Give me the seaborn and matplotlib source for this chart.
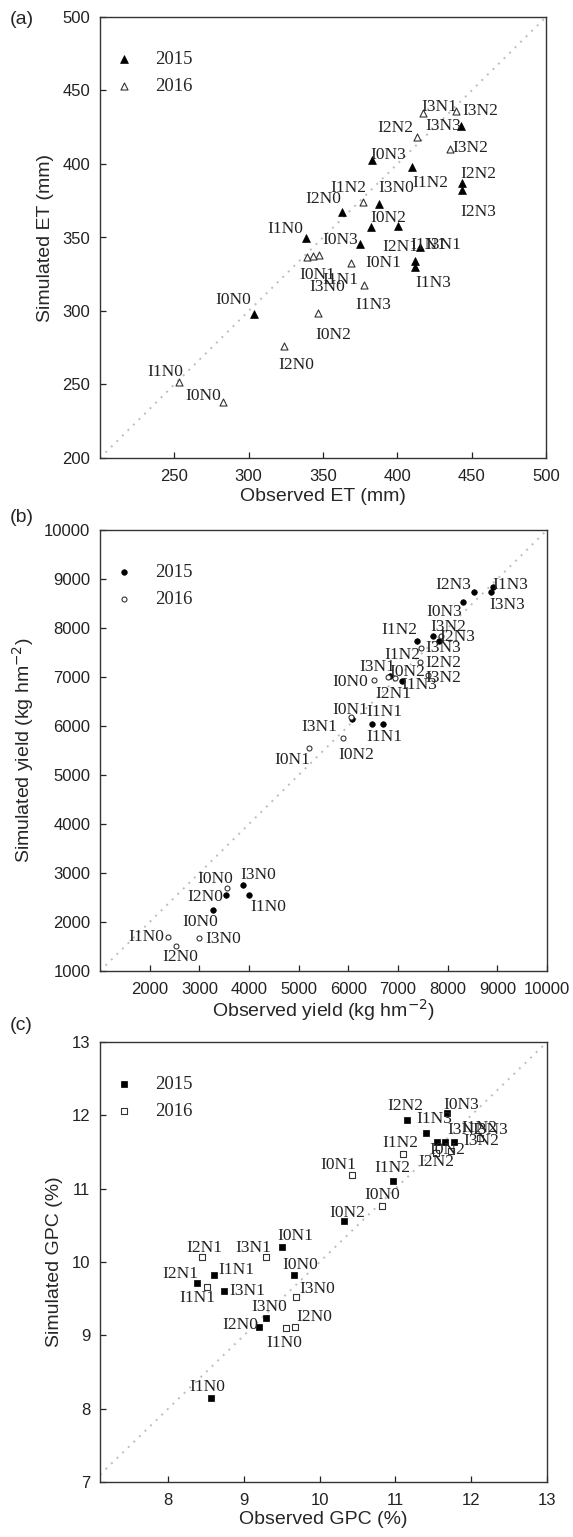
import matplotlib
matplotlib.use("Agg")
import matplotlib.pyplot as plt
import seaborn as sns
import pandas as pd

sns.set_style("ticks")
plt.rcParams["font.family"] = ["Liberation Sans", "DejaVu Sans"]

# ---------------- (a) ET (mm) ----------------
et15_obs = [338.6, 374.9, 382.3, 400.4, 362.8, 387.7, 383.0, 409.9, 442.8, 443.5, 443.5, 411.9, 411.9, 303.6, 415.2]
et15_sim = [349.7, 345.6, 357.1, 357.8, 367.3, 372.8, 402.7, 398.0, 425.9, 387.1, 382.3, 334.0, 329.9, 298.0, 343.5]
et15_lab = ["I1N0", "I0N3", "I0N2", "I2N1", "I2N0", "I3N0", "I0N3", "I1N2", "I3N3", "I2N2", "I2N3", "I3N1",
            "I1N3", "I0N0", "I1N1"]
et16_obs = [417.3, 439.5, 413.2, 435.4, 376.9, 339.2, 347.3, 368.8, 377.6, 346.6, 323.8, 253.1, 282.7, 343.3]
et16_sim = [434.7, 436.1, 418.4, 410.2, 374.1, 336.7, 338.1, 332.7, 317.7, 298.6, 276.2, 251.7, 238.1, 337.4]
et16_lab = ["I3N1", "I3N2", "I2N2", "I3N2", "I1N2", "I0N1", "I1N1", "I0N1", "I1N3", "I0N2", "I2N0", "I1N0",
            "I0N0", "I3N0"]

# ---------------- (b) yield (kg hm-2) ----------------
y15_obs = [8530, 8864, 8917, 8315, 7376, 7697, 7830, 6839, 7074, 6066, 6468, 6690, 3885, 4004, 3531, 3281]
y15_sim = [8729, 8729, 8831, 8525, 7735, 7837, 7735, 7027, 6919, 6143, 6041, 6041, 2755, 2551, 2551, 2245]
y15_lab = ["I2N3", "I3N3", "I1N3", "I0N3", "I1N2", "I3N2", "I3N3", "I3N1", "I1N3", "I3N1", "I1N1", "I1N1",
           "I3N0", "I1N0", "I2N0", "I0N0"]
y16_obs = [7858, 7463, 7443, 6940, 6517, 6054, 5885, 5215, 3561, 2361, 2530, 2993, 7600, 6800]
y16_sim = [7844, 7586, 7301, 6974, 6939, 6190, 5762, 5545, 2688, 1700, 1516, 1667, 7050, 7000]
y16_lab = ["I2N3", "I1N2", "I2N2", "I0N2", "I0N0", "I0N1", "I0N2", "I0N1", "I0N0", "I1N0", "I2N0", "I3N0",
           "I3N2", "I2N1"]

# ---------------- (c) GPC (%) ----------------
g15_obs = [10.97, 10.32, 9.50, 9.66, 8.60, 8.38, 8.74, 9.29, 9.20, 8.56, 11.15, 11.40, 11.55, 11.66, 11.77, 11.68]
g15_sim = [11.11, 10.56, 10.21, 9.82, 9.82, 9.72, 9.61, 9.23, 9.12, 8.14, 11.93, 11.76, 11.64, 11.63, 11.63, 12.03]
g15_lab = ["I1N2", "I0N2", "I0N1", "I0N0", "I1N1", "I2N1", "I3N1", "I3N0", "I2N0", "I1N0", "I2N2", "I1N3",
           "I0N2", "I3N2", "I1N2", "I0N3"]
g16_obs = [10.43, 10.82, 8.44, 9.29, 8.51, 9.69, 9.67, 9.56, 11.10, 11.53, 11.73, 12.12]
g16_sim = [11.19, 10.77, 10.07, 10.07, 9.66, 9.52, 9.12, 9.10, 11.47, 11.48, 11.52, 11.69]
g16_lab = ["I0N1", "I0N0", "I2N1", "I3N1", "I1N1", "I3N0", "I2N0", "I1N0", "I1N2", "I2N2", "I3N2", "I3N3"]

# label offsets (pixels, x right / y up)
et15_off = [(-21, 9), (-20, 4), (17, 9), (2, -21), (-19, 13), (17, 16), (16, 5), (18, -16), (-18, 0),
            (16, 9), (16, -22), (28, 16), (18, -16), (-21, 14), (8, 2)]
et16_off = [(16, 6), (24, 0), (-22, 9), (20, 1), (-15, 14), (10, -18), (21, -25), (32, 0), (9, -20),
            (15, -22), (12, -19), (-14, 10), (-20, 6), (14, -31)]
y15_off = [(-21, 7), (17, -13), (17, 2), (-19, -10), (-17, 11), (16, 9), (4, -7), (-13, 9), (18, -4),
           (-32, -8), (13, 12), (2, -13), (15, 10), (19, -12), (-20, -2), (-13, -12)]
y16_off = [(17, -1), (-19, -7), (23, -1), (12, 6), (-24, -2), (-1, 7), (14, -17), (-17, -12),
           (-12, 9), (-21, 0), (4, -11), (24, -1), (15, -3), (5, -17)]
g15_off = [(-1, 13), (3, 8), (13, 11), (6, 10), (23, 5), (-17, 9), (23, 0), (3, 11), (-19, 2), (-3, 11),
           (-2, 14), (8, 14), (10, -8), (20, 12), (26, 14), (14, 8)]
g16_off = [(-14, 10), (0, 11), (3, 9), (-13, 9), (-9, -11), (21, 8), (20, 10), (-2, -15), (-3, 11),
           (1, -9), (30, 10), (10, 8)]

W, H = 573, 1537
fig = plt.figure(figsize=(W / 100, H / 100), dpi=100)

serif = ["Liberation Serif", "DejaVu Serif"]


def panel(rect, obs15, sim15, lab15, off15, obs16, sim16, lab16, off16,
          marker, s, lims, xticks, yticks, xlabel, ylabel, tag, tag_y, xlab_pad):
    ax = fig.add_axes(rect)
    df15 = pd.DataFrame({"obs": obs15, "sim": sim15})
    df16 = pd.DataFrame({"obs": obs16, "sim": sim16})
    ax.plot([lims[0][0], lims[0][1]], [lims[0][0], lims[0][1]], ls=(0, (1, 3)),
            color="#bdbdbd", lw=1.4, zorder=1)
    sns.scatterplot(data=df15, x="obs", y="sim", marker=marker, s=s, color="black",
                    edgecolor="black", linewidth=0.5, ax=ax, label="2015", zorder=3)
    sns.scatterplot(data=df16, x="obs", y="sim", marker=marker, s=s * 0.8, color="white",
                    edgecolor="#333333", linewidth=0.8, ax=ax, label="2016", zorder=3)
    for xs, ys, labs, offs in [(obs15, sim15, lab15, off15), (obs16, sim16, lab16, off16)]:
        for x, y, lb, (dx, dy) in zip(xs, ys, labs, offs):
            if lb:
                ax.annotate(lb, (x, y), xytext=(dx, dy), textcoords="offset pixels",
                            ha="center", va="center", fontsize=12.5, family=serif,
                            color="#222222", zorder=4)
    ax.set_xlim(lims[0])
    ax.set_ylim(lims[1])
    ax.set_xticks(xticks)
    ax.set_yticks(yticks)
    ax.tick_params(direction="in", length=4, width=0.9, labelsize=12, colors="#222222")
    ax.tick_params(axis="x", pad=8)
    ax.tick_params(axis="y", pad=7)
    for sp in ax.spines.values():
        sp.set_linewidth(1.0)
        sp.set_color("#333333")
    ax.set_xlabel(xlabel, fontsize=14, labelpad=xlab_pad)
    ax.set_ylabel(ylabel, fontsize=14, labelpad=6)
    ax.legend(loc="upper left", bbox_to_anchor=(-0.005, 0.94), frameon=False,
              prop={"family": serif, "size": 13.5}, handletextpad=0.65,
              labelspacing=0.5, borderaxespad=0)
    fig.text(10 / W, 1 - tag_y / H, tag, fontsize=14, va="center", ha="left")
    return ax


panel([100 / W, 1 - 458 / H, 446 / W, 441 / H],
      et15_obs, et15_sim, et15_lab, et15_off, et16_obs, et16_sim, et16_lab, et16_off,
      "^", 32, ((200, 500), (200, 500)), [250, 300, 350, 400, 450, 500],
      [200, 250, 300, 350, 400, 450, 500], "Observed ET (mm)", "Simulated ET (mm)", "(a)",
      20, 3)

panel([100 / W, 1 - 971 / H, 447 / W, 441 / H],
      y15_obs, y15_sim, y15_lab, y15_off, y16_obs, y16_sim, y16_lab, y16_off,
      "o", 16, ((1000, 10000), (1000, 10000)), list(range(2000, 10001, 1000)),
      list(range(1000, 10001, 1000)), "Observed yield (kg hm$^{-2}$)",
      "Simulated yield (kg hm$^{-2}$)", "(b)", 518, 0)

panel([100 / W, 1 - 1482 / H, 447 / W, 440 / H],
      g15_obs, g15_sim, g15_lab, g15_off, g16_obs, g16_sim, g16_lab, g16_off,
      "s", 20, ((7.1, 13), (7, 13)), [8, 9, 10, 11, 12, 13],
      [7, 8, 9, 10, 11, 12, 13], "Observed GPC (%)", "Simulated GPC (%)", "(c)",
      1025, 2)

fig.savefig("out.png", dpi=100)
